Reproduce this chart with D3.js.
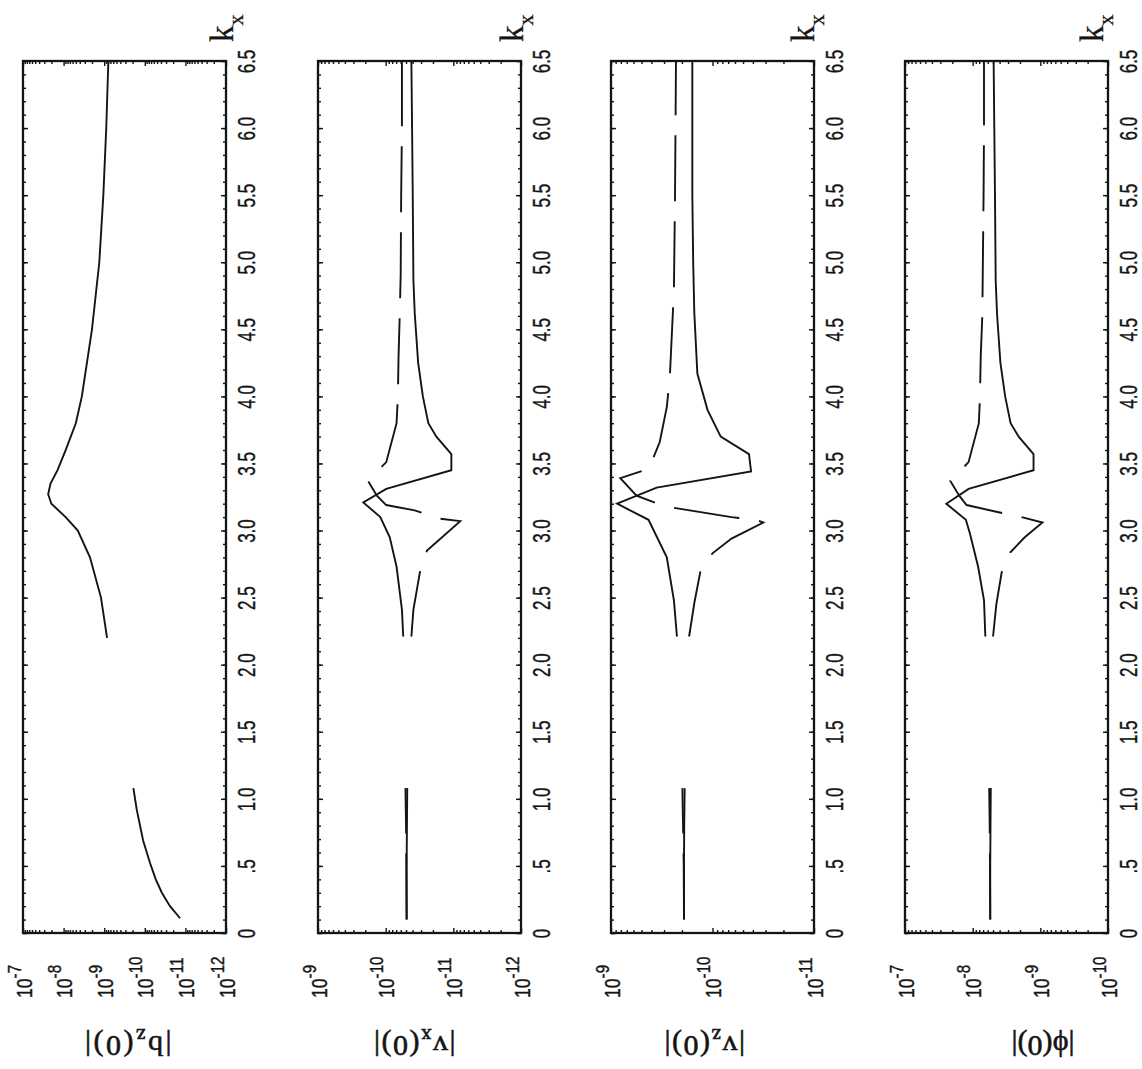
<!DOCTYPE html>
<html><head><meta charset="utf-8">
<script src="https://cdn.jsdelivr.net/npm/d3@7"></script>
<style>body{margin:0;background:#fff}</style>
</head><body><svg id="c" width="1142" height="1069"></svg>
<script>
// ---------- data ----------
const kTickValues = [0,0.5,1,1.5,2,2.5,3,3.5,4,4.5,5,5.5,6,6.5];
const kTickLabels = ["0",".5","1.0","1.5","2.0","2.5","3.0","3.5","4.0","4.5","5.0","5.5","6.0","6.5"];

const bzTicks = [1e-7,1e-8,1e-9,1e-10,1e-11,1e-12];
const bzTickLabels = ["10^-7","10^-8","10^-9","10^-10","10^-11","10^-12"];
const vxTicks = [1e-9,1e-10,1e-11,1e-12];
const vxTickLabels = ["10^-9","10^-10","10^-11","10^-12"];
const vzTicks = [1e-9,1e-10,1e-11];
const vzTickLabels = ["10^-9","10^-10","10^-11"];
const phiTicks = [1e-7,1e-8,1e-9,1e-10];
const phiTickLabels = ["10^-7","10^-8","10^-9","10^-10"];

// [k_x, value]; null = gap in the curve
const bzSolid = [[0.11,1.35e-11],[0.2,2.4e-11],[0.3,3.8e-11],[0.4,5.37e-11],[0.52,7.41e-11],[0.69,1.1e-10],[0.92,1.58e-10],[1.08,1.91e-10],null,
  [2.2,8.5e-10],[2.5,1.2e-9],[2.8,2.24e-9],[3.0,4.47e-9],[3.1,8.9e-9],[3.2,2.0e-8],[3.27,2.4e-8],[3.35,2.1e-8],[3.45,1.41e-8],[3.6,8.9e-9],[3.8,5.0e-9],[4.0,3.55e-9],[4.5,2.0e-9],[5.0,1.32e-9],[5.5,1.05e-9],[6.0,8.9e-10],[6.5,7.9e-10]];

const vxSolid = [[0.1,4.9e-11],[0.5,4.9e-11],[0.8,4.85e-11],[1.08,4.8e-11],null,
  [2.21,5.5e-11],[2.41,5.75e-11],[2.73,6.9e-11],[2.95,8.7e-11],[3.1,1.2e-10],[3.21,2.14e-10],[3.31,9.8e-11],[3.45,1.07e-11],[3.57,1.07e-11],[3.7,1.78e-11],[3.8,2.34e-11],[4.0,2.82e-11],[4.25,3.31e-11],[4.62,3.72e-11],[4.87,3.89e-11],[5.5,3.98e-11],[6.0,4.07e-11],[6.5,4.17e-11]];
const vxDashed = [[0.1,4.9e-11],[0.5,4.95e-11],[0.8,5.0e-11],[1.08,5.1e-11],null,
  [2.21,4.17e-11],[2.41,3.89e-11],[2.7,3.09e-11],[2.85,2.45e-11],[3.07,7.9e-12],[3.09,1.66e-11],[3.15,3.72e-11],[3.19,9.8e-11],[3.26,1.35e-10],[3.37,1.82e-10],[3.51,9.8e-11],[3.8,6.9e-11],[4.0,6.6e-11],[4.3,6.45e-11],[4.6,6.2e-11],[4.9,6.0e-11],[5.5,5.9e-11],[6.0,5.75e-11],[6.5,5.75e-11]];

const vzSolid = [[0.1,1.91e-10],[0.5,1.91e-10],[0.8,1.9e-10],[1.08,1.88e-10],null,
  [2.21,2.24e-10],[2.48,2.4e-10],[2.8,2.82e-10],[3.08,4.27e-10],[3.2,8.7e-10],[3.32,3.55e-10],[3.44,4.17e-11],[3.57,4.37e-11],[3.7,8.3e-11],[3.9,1.12e-10],[4.17,1.41e-10],[4.62,1.51e-10],[5.0,1.55e-10],[5.5,1.58e-10],[6.0,1.58e-10],[6.5,1.58e-10]];
const vzDashed = [[0.1,1.91e-10],[0.5,1.92e-10],[0.8,1.95e-10],[1.08,1.98e-10],null,
  [2.21,1.7e-10],[2.46,1.51e-10],[2.69,1.32e-10],[2.83,1.0e-10],[2.94,6.5e-11],[3.06,3.16e-11],[3.08,3.72e-11],[3.1,6.5e-11],[3.18,2.95e-10],[3.26,5.6e-10],[3.39,8.1e-10],[3.46,4.27e-10],[3.51,3.98e-10],[3.66,3.31e-10],[3.92,2.82e-10],[4.15,2.63e-10],[4.79,2.4e-10],[5.5,2.34e-10],[6.5,2.29e-10]];

const phiSolid = [[0.1,5.5e-9],[0.5,5.5e-9],[0.8,5.45e-9],[1.08,5.4e-9],null,
  [2.21,6.5e-9],[2.48,6.8e-9],[2.73,8.3e-9],[2.98,1.1e-8],[3.08,1.26e-8],[3.2,2.45e-8],[3.31,1.15e-8],[3.45,1.26e-9],[3.57,1.26e-9],[3.7,2.09e-9],[3.8,2.75e-9],[4.0,3.31e-9],[4.25,3.89e-9],[4.62,4.37e-9],[4.87,4.57e-9],[5.5,4.68e-9],[6.0,4.79e-9],[6.5,4.9e-9]];
const phiDashed = [[0.1,5.5e-9],[0.5,5.55e-9],[0.8,5.6e-9],[1.08,5.7e-9],null,
  [2.21,5.0e-9],[2.45,4.47e-9],[2.69,3.72e-9],[2.84,2.75e-9],[2.95,1.7e-9],[3.06,9.3e-10],[3.1,1.91e-9],[3.14,4.47e-9],[3.19,1.23e-8],[3.26,1.58e-8],[3.37,2.14e-8],[3.51,1.15e-8],[3.8,8.1e-9],[4.0,7.8e-9],[4.3,7.6e-9],[4.6,7.2e-9],[4.9,7.1e-9],[5.5,6.9e-9],[6.0,6.8e-9],[6.5,6.8e-9]];

// ---------- layout ----------
const W = 1142, H = 1069;
const TOP = 61, BOTTOM = 933, PW = 203;
const panels = [
  {left:23,  domain:[1e-7,1e-12],  ticks:bzTicks,  labels:bzTickLabels,  series:[bzSolid], dashed:[], title:["|b","z","(0)|"], titleX:127, tls:2.5, kxOff:7},
  {left:318, domain:[1e-9,1e-12],  ticks:vxTicks,  labels:vxTickLabels,  series:[vxSolid], dashed:[vxDashed], title:["|v","x","(0)|"], titleX:414, tls:1.5, kxOff:2},
  {left:611, domain:[1e-9,1e-11],  ticks:vzTicks,  labels:vzTickLabels,  series:[vzSolid], dashed:[vzDashed], title:["|v","z","(0)|"], titleX:704, tls:1.5, kxOff:0},
  {left:905, domain:[1e-7,1e-10],  ticks:phiTicks, labels:phiTickLabels, series:[phiSolid], dashed:[phiDashed], title:["|ϕ(0)|"], titleX:1043, tls:0, kxOff:-5}
];

const svg = d3.select("#c");
svg.append("rect").attr("width",W).attr("height",H).attr("fill","#fff");

const ks = d3.scaleLinear().domain([0,6.5]).range([BOTTOM,TOP]);
const kMinor = d3.range(0,66).map(i=>i/10);
const ink = "#141414";
const sansF = "'Liberation Sans', Arial, sans-serif";
const serifF = "'Liberation Serif', 'Times New Roman', serif";

panels.forEach(p => {
  const right = p.left + PW;
  const xs = d3.scaleLog().domain(p.domain).range([p.left,right]);
  const g = svg.append("g").style("color",ink);

  // minor ticks on k axis (both edges)
  g.append("g").attr("transform",`translate(${right},0)`)
    .call(d3.axisRight(ks).tickValues(kMinor).tickFormat("").tickSizeInner(-3).tickSizeOuter(0));
  g.append("g").attr("transform",`translate(${p.left},0)`)
    .call(d3.axisLeft(ks).tickValues(kMinor).tickFormat("").tickSizeInner(-3).tickSizeOuter(0));
  // major k ticks on left edge
  g.append("g").attr("transform",`translate(${p.left},0)`)
    .call(d3.axisLeft(ks).tickValues(kTickValues).tickFormat("").tickSizeInner(-5).tickSizeOuter(0));
  // major k ticks + labels on right edge
  const gk = g.append("g").attr("transform",`translate(${right},0)`)
    .call(d3.axisRight(ks).tickValues(kTickValues).tickFormat((d,i)=>kTickLabels[i]).tickSizeInner(-5).tickSizeOuter(0));
  gk.selectAll("text").attr("x",null).attr("dy",null).attr("text-anchor","middle")
    .attr("transform","translate(29,0) rotate(-90) scale(0.74,1)")
    .attr("stroke",ink).attr("stroke-width",0.4)
    .style("font-family",sansF).style("font-size","23px");

  // log axis minor ticks top & bottom
  const minorV = xs.ticks().filter(v => !p.ticks.some(t => Math.abs(t - v)/t < 1e-6));
  g.append("g").attr("transform",`translate(0,${TOP})`)
    .call(d3.axisTop(xs).tickValues(minorV).tickFormat("").tickSizeInner(-3).tickSizeOuter(0));
  g.append("g").attr("transform",`translate(0,${BOTTOM})`)
    .call(d3.axisBottom(xs).tickValues(minorV).tickFormat("").tickSizeInner(-3).tickSizeOuter(0));
  g.append("g").attr("transform",`translate(0,${TOP})`)
    .call(d3.axisTop(xs).tickValues(p.ticks).tickFormat("").tickSizeInner(-5).tickSizeOuter(0));
  const gy = g.append("g").attr("transform",`translate(0,${BOTTOM})`)
    .call(d3.axisBottom(xs).tickValues(p.ticks).tickFormat((d,i)=>p.labels[i]).tickSizeInner(-5).tickSizeOuter(0));
  gy.selectAll("text").each(function(d,i){
    const parts = p.labels[i].split("^");
    const t = d3.select(this);
    t.text(null).attr("y",null).attr("dy",null).attr("text-anchor","start")
      .attr("transform","translate(8,65) rotate(-90) scale(0.8,1)")
      .attr("stroke",ink).attr("stroke-width",0.4)
      .style("font-family",sansF).style("font-size","22px");
    t.append("tspan").text(parts[0]);
    t.append("tspan").attr("dy",-11).style("font-size","19px").text(parts[1]);
  });

  g.selectAll(".domain").remove();
  g.selectAll(".tick line").attr("stroke",ink).attr("stroke-width",1.4);

  // frame
  g.append("rect").attr("x",p.left).attr("y",TOP).attr("width",PW).attr("height",BOTTOM-TOP)
    .attr("fill","none").attr("stroke",ink).attr("stroke-width",2.3);

  // curves
  const line = d3.line().defined(d => d !== null).x(d => xs(d[1])).y(d => ks(d[0]));
  p.series.forEach(s => g.append("path").attr("d",line(s)).attr("fill","none")
    .attr("stroke",ink).attr("stroke-width",1.9).attr("stroke-linejoin","miter"));
  p.dashed.forEach(s => g.append("path").attr("d",line(s)).attr("fill","none")
    .attr("stroke",ink).attr("stroke-width",1.9).attr("stroke-dasharray","66,20"));

  // k_x label
  const kt = g.append("text").attr("transform",`translate(${right + p.kxOff},42) rotate(-90)`)
    .attr("text-anchor","start").style("font-family",serifF)
    .style("font-size","33px").attr("fill",ink).attr("stroke",ink).attr("stroke-width",0.3);
  kt.append("tspan").text("k");
  kt.append("tspan").attr("dy",10).style("font-size","22px").text("x");

  // y-axis title (upside down); baseline placed so glyphs span ~1030-1062
  const tt = g.append("text").attr("transform",`translate(${p.titleX},1036) rotate(180)`)
    .attr("text-anchor","middle")
    .style("font-family",serifF)
    .style("font-size","30px").style("letter-spacing",p.tls+"px")
    .attr("fill",ink).attr("stroke",ink).attr("stroke-width",0.6);
  if (p.title.length === 3) {
    tt.append("tspan").text(p.title[0]);
    tt.append("tspan").attr("dy",7).style("font-size","21px").text(p.title[1]);
    tt.append("tspan").attr("dy",-7).text(p.title[2]);
  } else {
    tt.append("tspan").text(p.title[0]);
  }
});
</script>
</body></html>
